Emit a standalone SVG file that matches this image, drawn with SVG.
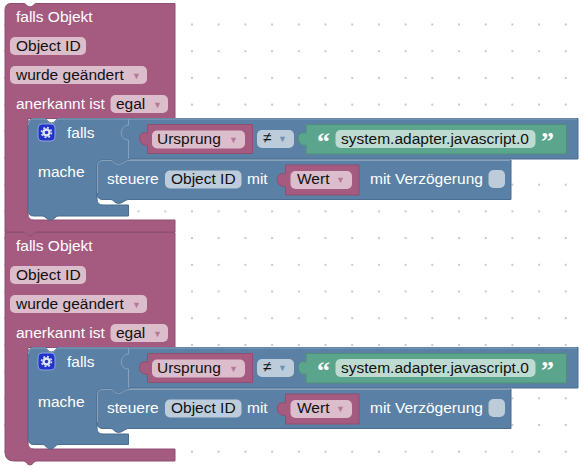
<svg xmlns="http://www.w3.org/2000/svg" width="588" height="471" viewBox="0 0 588 471">
<style>
text{font-family:"Liberation Sans",Arial,sans-serif;font-size:15.5px}
.w{fill:#fff}.k{fill:#111}
.pk{fill:#a55b80;stroke:#8f4f70;stroke-width:1}
.bl{fill:#5b80a5;stroke:#4a6d90;stroke-width:1}
.gr{fill:#5ba58c;stroke:#4f8f79;stroke-width:1}
.fp{fill:#dbbdcc}.fb{fill:#bdccdb}.fg{fill:#bddbd1}
.ar{font-size:9px;fill:#a55b80;fill-opacity:.7}.ab{font-size:9px;fill:#5b80a5;fill-opacity:.8}
.hl{fill:none;stroke:#86a2be;stroke-width:1}
.q{font-size:26px;font-family:"Liberation Serif",serif;font-weight:bold}
</style>
<defs>
<pattern id="grid" x="4.100" y="23.500" width="26.7" height="26.7" patternUnits="userSpaceOnUse"><rect width="2" height="2" fill="#c9c9c9"/></pattern>
<g id="gear"><rect x="38" y="124" width="17" height="17" rx="4" fill="#2233cc" stroke="#8fa0e0"/><circle cx="46.500" cy="132.500" r="3" fill="none" stroke="#dfe6f5" stroke-width="2.400"/><circle cx="46.500" cy="132.500" r="5" fill="none" stroke="#dfe6f5" stroke-width="1.500" stroke-dasharray="1.900 2.020"/></g>
</defs>
<rect width="588" height="471" fill="#fff"/>
<rect width="588" height="471" fill="url(#grid)"/>

<g id="event1">
<path class="pk" d="M11 3.500H24C26 3.500 27 7 30 7C33 7 34 3.500 36 3.500H175V118.500H28V214Q28 220 34 220H175V232H36C34 232 33 236 30 236C27 236 26 232 24 232H5V10Q5 3.500 11 3.500Z"/>
<text x="16" y="22" class="w">falls Objekt</text>
<rect x="10" y="37" width="76" height="18" rx="5" class="fp"/><text x="16" y="51" class="k">Object ID</text>
<rect x="10" y="66" width="137" height="18" rx="5" class="fp"/><text x="16" y="80" class="k">wurde geändert</text><text x="132" y="79" class="ar">▼</text>
<text x="16" y="109" class="w">anerkannt ist</text>
<rect x="110.500" y="95" width="57.500" height="18" rx="5" class="fp"/><text x="116" y="109" class="k">egal</text><text x="153" y="108" class="ar">▼</text>
</g>
<g id="event2">
<path class="pk" d="M5 232.500H24C26 232.500 27 236 30 236C33 236 34 232.500 36 232.500H175V347.500H28V443Q28 449 34 449H175V461H36C34 461 33 465 30 465C27 465 26 461 24 461H14Q5 461 5 452Z"/>
<text x="16" y="251" class="w">falls Objekt</text>
<rect x="10" y="266" width="76" height="18" rx="5" class="fp"/><text x="16" y="280" class="k">Object ID</text>
<rect x="10" y="295" width="137" height="18" rx="5" class="fp"/><text x="16" y="309" class="k">wurde geändert</text><text x="132" y="308" class="ar">▼</text>
<text x="16" y="338" class="w">anerkannt ist</text>
<rect x="110.500" y="324" width="57.500" height="18" rx="5" class="fp"/><text x="116" y="338" class="k">egal</text><text x="153" y="337" class="ar">▼</text>
</g>

<g id="if1">
<path class="bl" d="M34 118.500H45C47 118.500 48 123 51.500 123C55 123 56 118.500 58 118.500H578V159H129V165H97V199Q97 205 103 205H128.500V216H58C56 216 54 220 50.500 220C47 220 45 216 43 216H34Q28 216 28 210V125Q28 118.500 34 118.500Z"/>
<path class="hl" d="M28.500 125Q28.500 119 34 119H45C47 119 48 123.500 51.500 123.500C55 123.500 56 119 58 119H577M128.500 119V125C120 125 118 140 128.500 140V159"/>
<use href="#gear"/>
<text x="67" y="138" class="w">falls</text><text x="38" y="177" class="w">mache</text>
</g>
<g id="cmp1"><path d="M147.500 124.500H252.500V153.500H147.500V145C139 148 135 130 147.500 133Z" class="pk"/>
<rect x="152" y="130.500" width="93" height="18" rx="5" class="fp"/><text x="157" y="144" class="k">Ursprung</text><text x="229" y="143" class="ar">▼</text></g>
<g id="neq1"><rect x="257" y="130" width="37" height="18" rx="5" class="fb"/><text x="263" y="143" class="k">≠</text><text x="278" y="142" class="ab">▼</text></g>
<g id="str1"><path d="M306 124.500H566.500V154H306V145C297 148 294 130 306 133Z" class="gr"/>
<text x="317" y="150" class="w q">“</text>
<rect x="335.500" y="130" width="200" height="18" rx="5" class="fg"/><text x="341" y="144" class="k">system.adapter.javascript.0</text>
<text x="541" y="150" class="w q">”</text></g>
<g id="cmd1"><path class="bl" d="M103 160H111C113 160 115 164 118.500 164C122 164 126 160 128 160H511V199.500H128C126 199.500 122 203.500 118.500 203.500C115 203.500 113 199.500 111 199.500H103Q97 199.500 97 193.500V166Q97 160 103 160Z"/>
<path class="hl" d="M97.500 193V166Q97.500 160.500 103 160.500H111C113 160.500 115 164.500 118.500 164.500C122 164.500 126 160.500 128 160.500H510"/>
<text x="107" y="184" class="w">steuere</text>
<rect x="165" y="170.500" width="76.500" height="18" rx="5" class="fb"/><text x="171" y="184" class="k">Object ID</text>
<text x="247" y="184" class="w">mit</text>
<path d="M285.500 165H359V195H285.500V186C276 189 273 171 285.500 174Z" class="pk"/>
<rect x="290.500" y="171" width="61.500" height="18" rx="5" class="fp"/><text x="297" y="184" class="k">Wert</text><text x="336" y="183" class="ar">▼</text>
<text x="370" y="184" class="w">mit Verzögerung</text>
<rect x="488.500" y="170" width="16.500" height="18" rx="5" class="fb"/></g>

<g id="if2" transform="translate(0,229)">
<path class="bl" d="M34 118.500H45C47 118.500 48 123 51.500 123C55 123 56 118.500 58 118.500H578V159H129V165H97V199Q97 205 103 205H128.500V215.500H58C56 215.500 54 220 50.500 220C47 220 45 215.500 43 215.500H34Q28 215.500 28 209.500V125Q28 118.500 34 118.500Z"/>
<path class="hl" d="M28.500 125Q28.500 119 34 119H45C47 119 48 123.500 51.500 123.500C55 123.500 56 119 58 119H577M128.500 119V125C120 125 118 140 128.500 140V159"/>
<use href="#gear"/>
<text x="67" y="138" class="w">falls</text><text x="38" y="178" class="w">mache</text>
</g>
<g id="cmp2" transform="translate(0,229)"><path d="M147.500 124.500H252.500V153.500H147.500V145C139 148 135 130 147.500 133Z" class="pk"/>
<rect x="152" y="130.500" width="93" height="18" rx="5" class="fp"/><text x="157" y="144" class="k">Ursprung</text><text x="229" y="143" class="ar">▼</text></g>
<g id="neq2" transform="translate(0,229)"><rect x="257" y="130" width="37" height="18" rx="5" class="fb"/><text x="263" y="143" class="k">≠</text><text x="278" y="142" class="ab">▼</text></g>
<g id="str2" transform="translate(0,229)"><path d="M306 124.500H566.500V154H306V145C297 148 294 130 306 133Z" class="gr"/>
<text x="317" y="150" class="w q">“</text>
<rect x="335.500" y="130" width="200" height="18" rx="5" class="fg"/><text x="341" y="144" class="k">system.adapter.javascript.0</text>
<text x="541" y="150" class="w q">”</text></g>
<g id="cmd2" transform="translate(0,229)"><path class="bl" d="M103 160H111C113 160 115 164 118.500 164C122 164 126 160 128 160H511V199.500H128C126 199.500 122 203.500 118.500 203.500C115 203.500 113 199.500 111 199.500H103Q97 199.500 97 193.500V166Q97 160 103 160Z"/>
<path class="hl" d="M97.500 193V166Q97.500 160.500 103 160.500H111C113 160.500 115 164.500 118.500 164.500C122 164.500 126 160.500 128 160.500H510"/>
<text x="107" y="184" class="w">steuere</text>
<rect x="165" y="170.500" width="76.500" height="18" rx="5" class="fb"/><text x="171" y="184" class="k">Object ID</text>
<text x="247" y="184" class="w">mit</text>
<path d="M285.500 165H359V195H285.500V186C276 189 273 171 285.500 174Z" class="pk"/>
<rect x="290.500" y="171" width="61.500" height="18" rx="5" class="fp"/><text x="297" y="184" class="k">Wert</text><text x="336" y="183" class="ar">▼</text>
<text x="370" y="184" class="w">mit Verzögerung</text>
<rect x="488.500" y="170" width="16.500" height="18" rx="5" class="fb"/></g>
</svg>
